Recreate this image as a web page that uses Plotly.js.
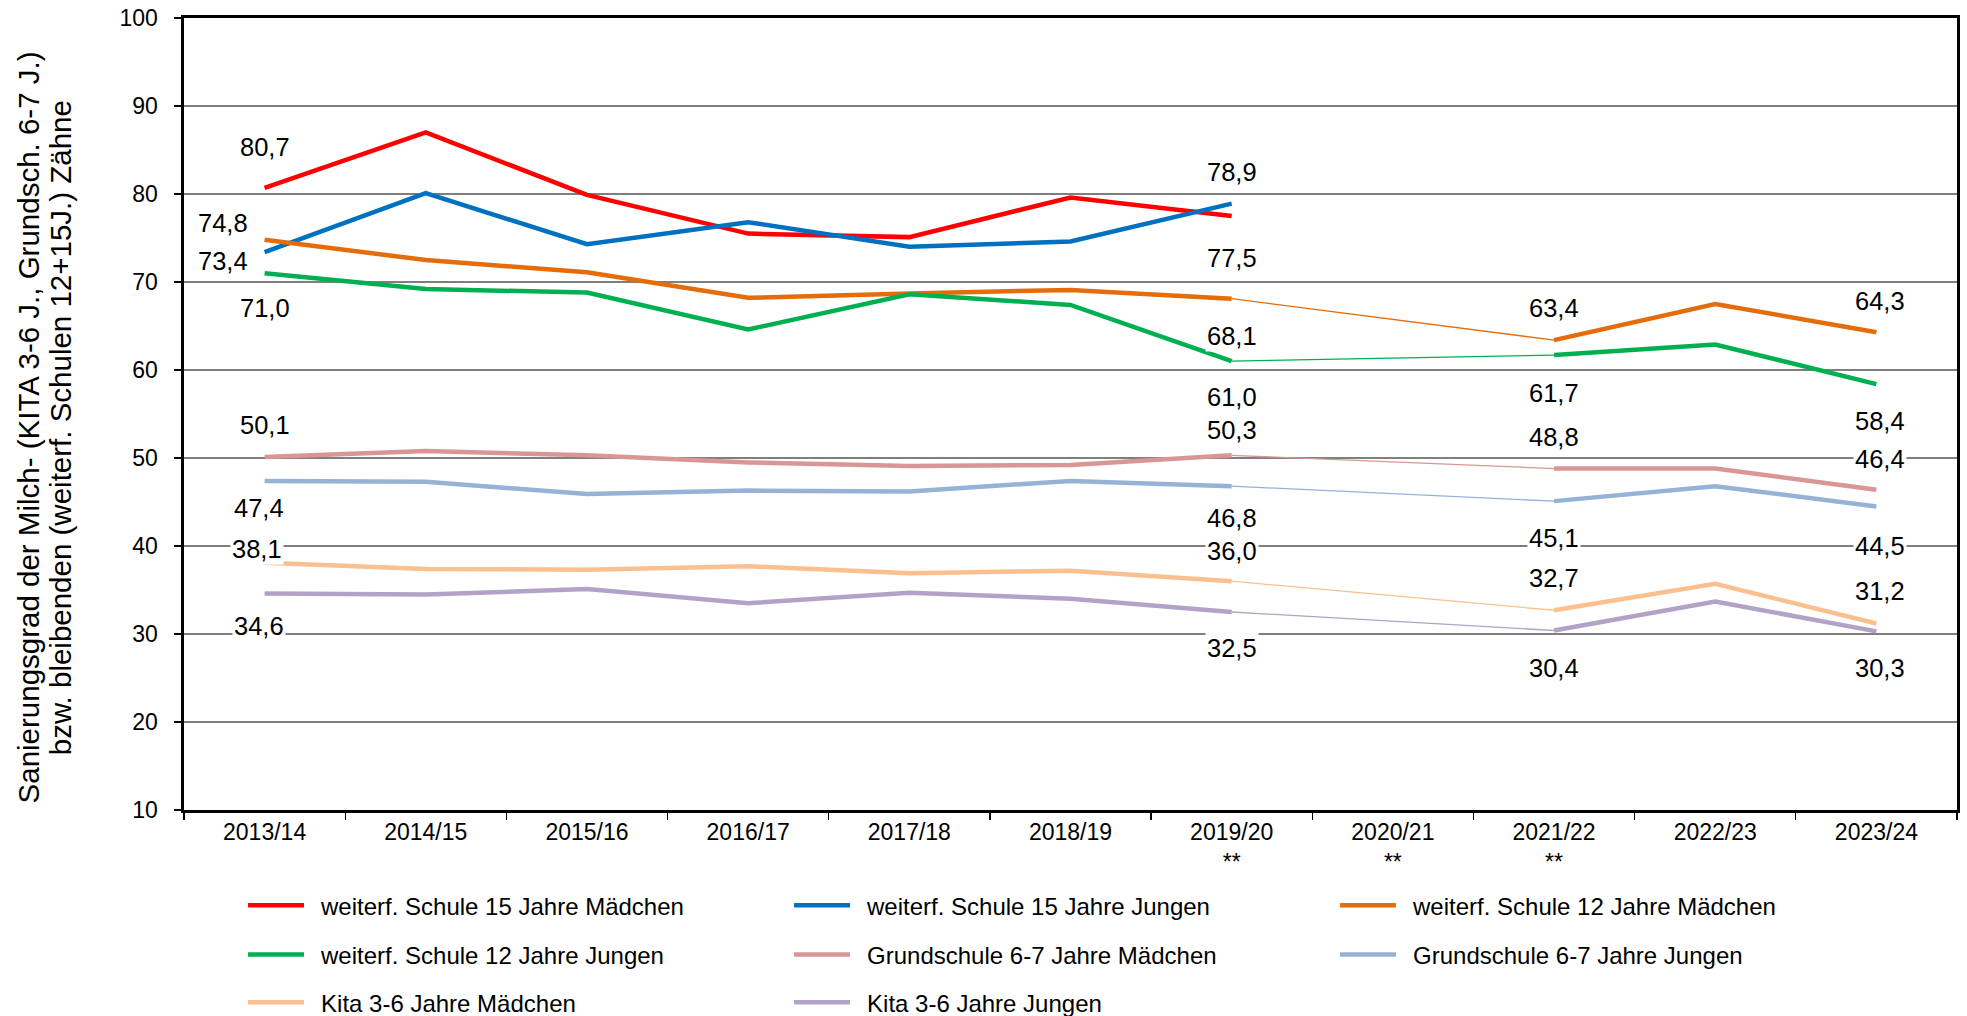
<!DOCTYPE html>
<html><head><meta charset="utf-8">
<script src="https://cdn.plot.ly/plotly-3.0.1.min.js"></script>
<style>html,body{margin:0;padding:0;background:#fff}</style>
</head><body>
<div id="chart" style="width:1967px;height:1016px"></div>
<script>
// ---- data ----
const categories = ['2013/14','2014/15','2015/16','2016/17','2017/18','2018/19','2019/20','2020/21','2021/22','2022/23','2023/24'];
const tickLabels = ['2013/14','2014/15','2015/16','2016/17','2017/18','2018/19','2019/20<br>**','2020/21<br>**','2021/22<br>**','2022/23','2023/24'];
const seriesNames = ['weiterf. Schule 15 Jahre Mädchen','weiterf. Schule 15 Jahre Jungen','weiterf. Schule 12 Jahre Mädchen',
  'weiterf. Schule 12 Jahre Jungen','Grundschule 6-7 Jahre Mädchen','Grundschule 6-7 Jahre Jungen',
  'Kita 3-6 Jahre Mädchen','Kita 3-6 Jahre Jungen'];
const ws15Maedchen = [80.7, 87.0, 79.9, 75.5, 75.1, 79.6, 77.5, null, null, null, null];
const ws15Jungen   = [73.4, 80.1, 74.3, 76.8, 74.0, 74.6, 78.9, null, null, null, null];
const ws12Maedchen = [74.8, 72.5, 71.1, 68.2, 68.7, 69.1, 68.1, null, 63.4, 67.5, 64.3];
const ws12Jungen   = [71.0, 69.2, 68.8, 64.6, 68.6, 67.4, 61.0, null, 61.7, 62.9, 58.4];
const gsMaedchen   = [50.1, 50.8, 50.3, 49.5, 49.1, 49.2, 50.3, null, 48.8, 48.8, 46.4];
const gsJungen     = [47.4, 47.3, 45.9, 46.3, 46.2, 47.4, 46.8, null, 45.1, 46.8, 44.5];
const kitaMaedchen = [38.1, 37.4, 37.3, 37.7, 36.9, 37.2, 36.0, null, 32.7, 35.7, 31.2];
const kitaJungen   = [34.6, 34.5, 35.1, 33.5, 34.7, 34.0, 32.5, null, 30.4, 33.7, 30.3];
const yTitleLines = ['Sanierungsgrad der Milch- (KITA 3-6 J., Grundsch. 6-7 J.)',
                     'bzw. bleibenden (weiterf. Schulen 12+15J.) Zähne'];

// ---- styles ----
const allSeries = [ws15Maedchen, ws15Jungen, ws12Maedchen, ws12Jungen, gsMaedchen, gsJungen, kitaMaedchen, kitaJungen];
const colors = ['#FF0000','#0070C0','#E46C0A','#00B050','#D99694','#95B3D7','#FAC090','#B3A2C7'];
const legendRow = ['legend','legend','legend','legend2','legend2','legend2','legend3','legend3'];
// label placement per series: [pointIndex, xshift, yshift]
const labelPlace = [
  [[0,0,41],[6,0,-42]],
  [[0,-42,-9],[6,0,32]],
  [[0,-42,17],[6,0,-37],[8,0,32],[10,4,31]],
  [[0,0,-35],[6,0,-36],[8,0,-38],[10,4,-37]],
  [[0,0,32],[6,0,25],[8,0,32],[10,4,31]],
  [[0,-6,-27],[6,0,-32],[8,0,-37],[10,4,-40]],
  [[0,-8,14],[6,0,30],[8,0,32],[10,4,32]],
  [[0,-6,-32],[6,0,-36],[8,0,-38],[10,4,-37]]
];
const titleX = [-0.088, -0.0695];
const FONT = 'Liberation Sans, Arial, sans-serif';
const fmt = v => v.toFixed(1).replace('.', ',');

const traces = [];
const annotations = [];
allSeries.forEach((vals, s) => {
  traces.push({
    type: 'scatter', mode: 'lines', x: categories, y: vals, name: '\u2002' + seriesNames[s],
    line: {color: colors[s], width: 4.5}, connectgaps: false, legend: legendRow[s],
    hoverinfo: 'skip'
  });
  if (vals[6] != null && vals[8] != null) {
    traces.push({
      type: 'scatter', mode: 'lines', x: [categories[6], categories[8]], y: [vals[6], vals[8]],
      line: {color: colors[s], width: 1.3}, showlegend: false, hoverinfo: 'skip'
    });
  }
  labelPlace[s].forEach(([i, xs, ys]) => {
    if (vals[i] == null) return;
    annotations.push({
      x: categories[i], y: vals[i], xref: 'x', yref: 'y', text: fmt(vals[i]),
      showarrow: false, xshift: xs, yshift: ys, bgcolor: '#ffffff', borderpad: 1,
      font: {family: FONT, size: 25.5, color: '#000'}
    });
  });
});

yTitleLines.forEach((t, k) => {
  annotations.push({
    xref: 'paper', yref: 'paper', x: titleX[k], y: 0.483, xanchor: 'center', yanchor: 'middle',
    text: t, textangle: -90, showarrow: false,
    font: {family: FONT, size: 29.5, color: '#000'}
  });
});

const legendBase = {
  orientation: 'h', xref: 'paper', yref: 'paper', xanchor: 'left', yanchor: 'middle',
  x: 0.0333, entrywidth: 475, entrywidthmode: 'pixels', itemwidth: 56,
  font: {family: FONT, size: 24, color: '#000'}, bgcolor: 'rgba(0,0,0,0)', borderwidth: 0,
  traceorder: 'normal'
};

const layout = {
  width: 1967, height: 1016,
  margin: {l: 184, r: 10, t: 18, b: 206, autoexpand: false},
  paper_bgcolor: '#ffffff', plot_bgcolor: '#ffffff',
  font: {family: FONT, color: '#000'},
  showlegend: true,
  legend: Object.assign({}, legendBase, {y: -0.1207}),
  legend2: Object.assign({}, legendBase, {y: -0.1829}),
  legend3: Object.assign({}, legendBase, {y: -0.2434}),
  xaxis: {
    type: 'category', categoryorder: 'array', categoryarray: categories,
    range: [-0.5, 10.5], tickvals: categories, ticktext: tickLabels,
    tickson: 'boundaries', ticks: 'outside', ticklen: 7, tickwidth: 1.3, tickcolor: '#000',
    showline: true, linecolor: '#000', linewidth: 2.6, mirror: true,
    showgrid: false, zeroline: false, fixedrange: true, automargin: false,
    tickfont: {family: FONT, size: 23, color: '#000'}
  },
  yaxis: {
    range: [10, 100], dtick: 10, tick0: 10, ticks: 'outside', ticklen: 7, tickwidth: 1.3, tickcolor: '#000',
    showline: true, linecolor: '#000', linewidth: 2.6, mirror: true,
    showgrid: true, gridcolor: '#7f7f7f', gridwidth: 1.4, zeroline: false, fixedrange: true, automargin: false,
    ticklabelstandoff: 12,
    tickfont: {family: FONT, size: 23, color: '#000'}
  },
  annotations: annotations
};

Plotly.newPlot('chart', traces, layout, {displayModeBar: false, staticPlot: true});
</script>
</body></html>
